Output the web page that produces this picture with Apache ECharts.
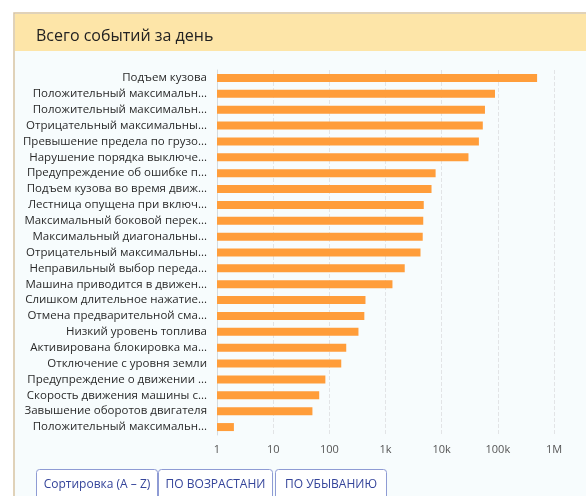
<!DOCTYPE html>
<html>
<head>
<meta charset="utf-8">
<script src="https://cdn.jsdelivr.net/npm/echarts@6/dist/echarts.min.js"></script>
<style>
  html, body { margin: 0; padding: 0; background: #fff; }
  #chart { width: 586px; height: 496px; }
</style>
</head>
<body>
<div id="chart"></div>
<script>
// категории сверху вниз
const categories = [
  'Подъем кузова',
  'Положительный максимальн...',
  'Положительный максимальн...',
  'Отрицательный максимальны...',
  'Превышение предела по грузо...',
  'Нарушение порядка выключе...',
  'Предупреждение об ошибке п...',
  'Подъем кузова во время движ...',
  'Лестница опущена при включ...',
  'Максимальный боковой перек...',
  'Максимальный диагональны...',
  'Отрицательный максимальны...',
  'Неправильный выбор переда...',
  'Машина приводится в движен...',
  'Слишком длительное нажатие...',
  'Отмена предварительной сма...',
  'Низкий уровень топлива',
  'Активирована блокировка ма...',
  'Отключение с уровня земли',
  'Предупреждение о движении ...',
  'Скорость движения машины с...',
  'Завышение оборотов двигателя',
  'Положительный максимальн...'
]
const eventCounts = [
  500000, 89000, 59000, 54000, 46000, 30000, 7800, 6600, 4800, 4700, 4600,
  4200, 2200, 1330, 440, 420, 330, 200, 163, 85, 66, 50, 2
]
const tickLabels = { 1: '1', 10: '10', 100: '100', 1000: '1k', 10000: '10k', 100000: '100k', 1000000: '1M' }
const buttonLabels = ['Сортировка (A – Z)', 'ПО ВОЗРАСТАНИ', 'ПО УБЫВАНИЮ']

const chart = echarts.init(document.getElementById('chart'))

const btnX = [36, 158, 275]
const btnW = [121, 114, 111]
const buttons = buttonLabels.map((name, i) => {
  return {
    type: 'group',
    left: btnX[i],
    top: 469,
    children: [
      {
        type: 'rect',
        shape: { x: 0, y: 0, width: btnW[i], height: 30, r: 3 },
        style: { fill: '#fff', stroke: '#8e9bd4', lineWidth: 1 }
      },
      {
        type: 'text',
        x: btnW[i] / 2,
        y: 15,
        style: {
          text: name,
          fill: '#34449a',
          font: '12px "Open Sans"',
          align: 'center',
          verticalAlign: 'middle'
        }
      }
    ]
  }
})

const option = {
  textStyle: { fontFamily: 'Open Sans' },
  graphic: [
    {
      type: 'rect',
      z: -10,
      shape: { x: 14, y: 13, width: 600, height: 500 },
      style: { fill: '#f7fcfd', stroke: '#d8c3a2', lineWidth: 1.5 }
    },
    {
      type: 'rect',
      z: -9,
      shape: { x: 15, y: 14, width: 600, height: 37 },
      style: { fill: '#fde5a8' }
    },
    ...buttons
  ],
  title: {
    text: 'Всего событий за день',
    left: 31,
    top: 23,
    textStyle: { fontSize: 16, fontWeight: 'normal', color: '#222', fontFamily: 'Open Sans' }
  },
  grid: {
    left: 217,
    right: 32,
    top: 70,
    bottom: 61,
    containLabel: false
  },
  xAxis: {
    type: 'log',
    logBase: 10,
    min: 1,
    max: 1000000,
    axisLine: { show: false },
    axisTick: { show: false },
    axisLabel: {
      color: '#555',
      fontSize: 11,
      margin: 9,
      formatter: (v) => tickLabels[Math.round(v)] || ''
    },
    splitLine: { show: true, lineStyle: { color: '#e2e4e6', type: 'dashed' } }
  },
  yAxis: {
    type: 'category',
    inverse: true,
    data: categories,
    axisLine: { show: true, lineStyle: { color: '#d6dadd' } },
    axisTick: { show: false },
    axisLabel: { color: '#2a2a2a', fontSize: 11.5, margin: 10 }
  },
  series: [
    {
      type: 'bar',
      data: eventCounts,
      barWidth: 8,
      itemStyle: { color: '#ff9d3a' }
    }
  ]
}

chart.setOption(option)
</script>
</body>
</html>
